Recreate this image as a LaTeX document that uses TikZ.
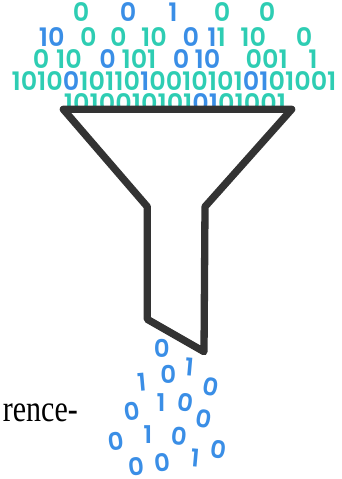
\documentclass[tikz,border=0pt]{standalone}
\usepackage{fontspec}
\newfontfamily\digitfont{Poppins SemiBold}
\newfontfamily\bodyserif{Liberation Serif}
\definecolor{bitteal}{HTML}{2ECDB3}
\definecolor{bitblue}{HTML}{3A8EE6}
\definecolor{funnelgray}{HTML}{333333}
\tikzset{
  bits/.style={font=\digitfont\fontsize{25.5}{27}\selectfont, inner sep=0pt, anchor=base},
  tb/.style={bits, text=bitteal},
  bb/.style={bits, text=bitblue},
  drop/.style={font=\digitfont\fontsize{24.5}{26}\selectfont, inner sep=0pt, text=bitblue},
  funnel/.style={draw=funnelgray, fill=white, line width=7.3pt, line join=round, line cap=round}
}
\newcommand{\tc}[1]{\textcolor{bitteal}{#1}}
\newcommand{\bc}[1]{\textcolor{bitblue}{#1}}
\begin{document}
\begin{tikzpicture}[x=1pt, y=-1pt]
\useasboundingbox (0,0) rectangle (341,479);

% row 1
\node[tb] (r1a) at (81,21.5) {0};
\node[bb] (r1b) at (128,21.5) {0};
\node[bb] (r1c) at (173,21.5) {1};
\node[tb] (r1d) at (222,21.5) {0};
\node[tb] (r1e) at (267,21.5) {0};

% row 2
\node[bb] (r2a) at (51.7,46.7) {10};
\node[tb] (r2b) at (88.3,46.7) {0};
\node[tb] (r2c) at (118.3,46.7) {0};
\node[tb] (r2d) at (154,46.7) {10};
\node[bb] (r2e) at (190.8,46.7) {0};
\node[bits] (r2f) at (216.7,46.7) {\bc{1}\tc{1}};
\node[tb] (r2g) at (253.3,46.7) {10};
\node[tb] (r2h) at (304,46.7) {0};

% row 3
\node[tb] (r3a) at (41,68.3) {0};
\node[tb] (r3b) at (69,68.3) {10};
\node[bb] (r3c) at (107.5,68.3) {0};
\node[tb] (r3d) at (139,68.3) {101};
\node[bb] (r3e) at (181,68.3) {0};
\node[bb] (r3f) at (207.5,68.3) {10};
\node[tb] (r3g) at (266.7,68.3) {001};
\node[tb] (r3h) at (313,68.3) {1};

% row 4
\node[bits] (r4) at (174,90) {\tc{1010}\bc{0}\tc{10110}\bc{1}\tc{0010101}\bc{01}\tc{01001}};

% row 5 (mostly hidden behind the funnel rim)
\node[bits] (r5) at (175,112) {\tc{1010010101}\bc{01}\tc{01001}};

% funnel
\coordinate (tl) at (63.3,109.3);
\coordinate (tr) at (291.7,109.3);
\coordinate (nr) at (205,206.7);
\coordinate (br) at (204,351.7);
\coordinate (bl) at (147.3,319.3);
\coordinate (nl) at (147.3,206.7);
\draw[funnel] (tl) -- (tr) -- (nr) -- (br) -- (bl) -- (nl) -- cycle;

% falling bits
\node[drop] (d1) at (161.7,348.3) {0};
\node[drop, rotate=-5] (d2) at (189.3,366.7) {1};
\node[drop] (d3) at (168.3,374.3) {0};
\node[drop, rotate=5] (d4) at (141.7,382.7) {1};
\node[drop, rotate=-10] (d5) at (211,386.7) {0};
\node[drop] (d6) at (161,402.7) {1};
\node[drop, rotate=-8] (d7) at (186,402.7) {0};
\node[drop, rotate=8] (d8) at (131.7,411) {0};
\node[drop, rotate=-10] (d9) at (204,419.3) {0};
\node[drop] (d10) at (147.7,435) {1};
\node[drop, rotate=-6] (d11) at (179,436) {0};
\node[drop, rotate=8] (d12) at (115.7,441.7) {0};
\node[drop, rotate=-8] (d13) at (219,449.3) {0};
\node[drop, rotate=-5] (d14) at (195,458.3) {1};
\node[drop, rotate=6] (d15) at (162.7,462.7) {0};
\node[drop, rotate=6] (d16) at (136.7,467) {0};

% cut-off body text
\node[font=\bodyserif\fontsize{30}{32}\selectfont, inner sep=0pt, anchor=base east, yscale=1.25] (txt) at (78,421) {rence-};
\end{tikzpicture}
\end{document}
